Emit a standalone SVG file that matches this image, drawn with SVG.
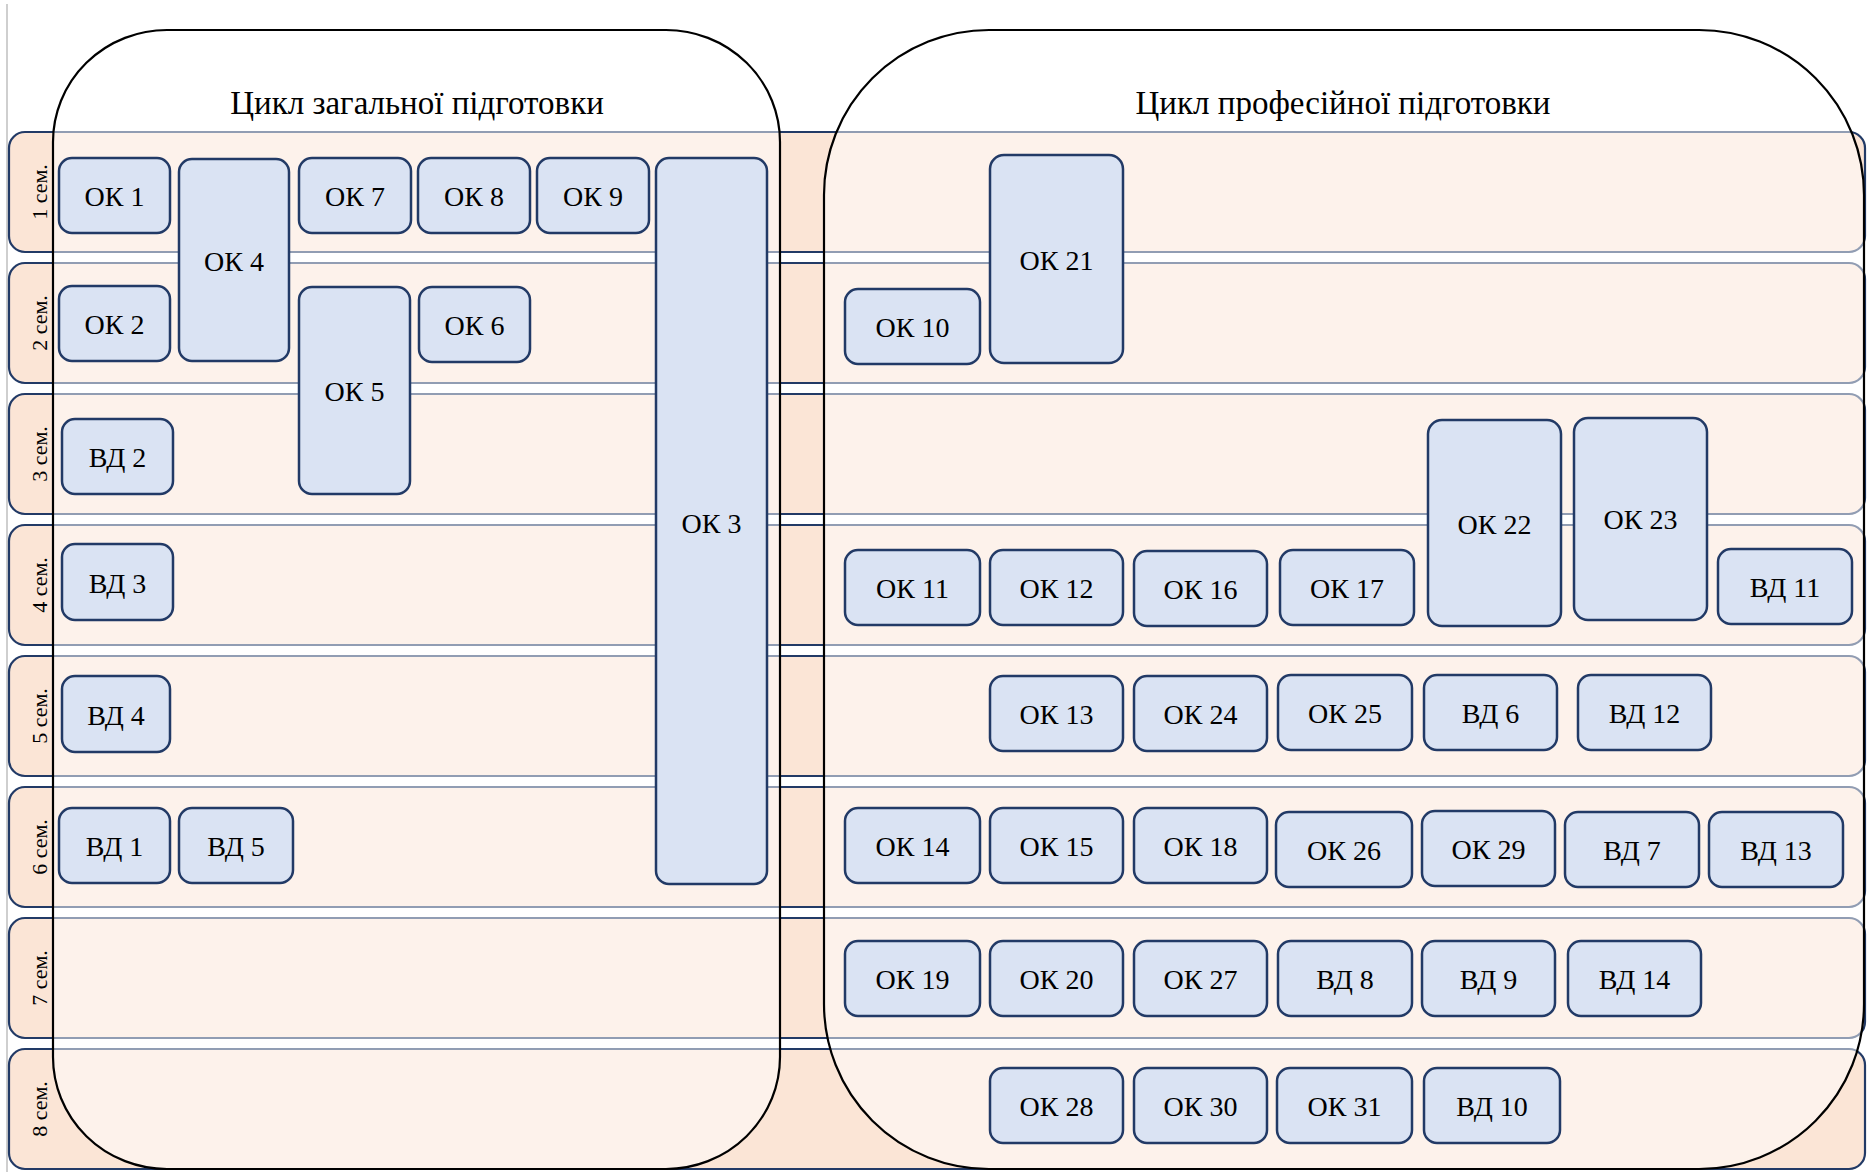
<svg xmlns="http://www.w3.org/2000/svg" width="1867" height="1172" viewBox="0 0 1867 1172">
<style>
.row{fill:#FBE5D6;stroke:#223A66;stroke-width:2.2}
.tab{font-family:"Liberation Serif","Times New Roman",serif;font-size:22px;fill:#000;text-anchor:middle;dominant-baseline:central}
.cyc{fill:#FFFFFF;fill-opacity:0.5;stroke:#000;stroke-width:2.2}
.ttl{font-family:"Liberation Serif","Times New Roman",serif;font-size:33px;fill:#000;text-anchor:middle}
.nd rect{fill:#DAE3F3;stroke:#223A66;stroke-width:2.5}
.nd text{font-family:"Liberation Serif","Times New Roman",serif;font-size:28px;fill:#000;text-anchor:middle}
</style>
<rect width="1867" height="1172" fill="#FFFFFF"/>
<line x1="7" y1="4" x2="7" y2="1172" stroke="#BFBFBF" stroke-width="1.5"/>
<g id="semesters">
<g id="sem1"><rect class="row" x="9" y="132" width="1856" height="120" rx="16"/><text class="tab" transform="translate(39,192) rotate(-90)">1 сем.</text></g>
<g id="sem2"><rect class="row" x="9" y="263" width="1856" height="120" rx="16"/><text class="tab" transform="translate(39,323) rotate(-90)">2 сем.</text></g>
<g id="sem3"><rect class="row" x="9" y="394" width="1856" height="120" rx="16"/><text class="tab" transform="translate(39,454) rotate(-90)">3 сем.</text></g>
<g id="sem4"><rect class="row" x="9" y="525" width="1856" height="120" rx="16"/><text class="tab" transform="translate(39,585) rotate(-90)">4 сем.</text></g>
<g id="sem5"><rect class="row" x="9" y="656" width="1856" height="120" rx="16"/><text class="tab" transform="translate(39,716) rotate(-90)">5 сем.</text></g>
<g id="sem6"><rect class="row" x="9" y="787" width="1856" height="120" rx="16"/><text class="tab" transform="translate(39,847) rotate(-90)">6 сем.</text></g>
<g id="sem7"><rect class="row" x="9" y="918" width="1856" height="120" rx="16"/><text class="tab" transform="translate(39,978) rotate(-90)">7 сем.</text></g>
<g id="sem8"><rect class="row" x="9" y="1049" width="1856" height="120" rx="16"/><text class="tab" transform="translate(39,1109) rotate(-90)">8 сем.</text></g>
</g>
<g id="cycle-general">
<rect class="cyc" x="53" y="30" width="727" height="1139" rx="114" ry="112"/>
<text class="ttl" x="417" y="114">Цикл загальної підготовки</text>
</g>
<g id="cycle-professional">
<rect class="cyc" x="824" y="30" width="1040" height="1139" rx="165" ry="165"/>
<text class="ttl" x="1343" y="114">Цикл професійної підготовки</text>
</g>
<g id="connectors"></g>
<g id="ok1" class="nd"><rect x="59" y="158" width="111" height="75" rx="13"/><text x="114.5" y="206">ОК 1</text></g>
<g id="ok4" class="nd"><rect x="179" y="159" width="110" height="202" rx="13"/><text x="234" y="271">ОК 4</text></g>
<g id="ok7" class="nd"><rect x="299" y="158" width="112" height="75" rx="13"/><text x="355" y="206">ОК 7</text></g>
<g id="ok8" class="nd"><rect x="418" y="158" width="112" height="75" rx="13"/><text x="474" y="206">ОК 8</text></g>
<g id="ok9" class="nd"><rect x="537" y="158" width="112" height="75" rx="13"/><text x="593" y="206">ОК 9</text></g>
<g id="ok3" class="nd"><rect x="656" y="158" width="111" height="726" rx="13"/><text x="711.5" y="533">ОК 3</text></g>
<g id="ok2" class="nd"><rect x="59" y="286" width="111" height="75" rx="13"/><text x="114.5" y="334">ОК 2</text></g>
<g id="ok5" class="nd"><rect x="299" y="287" width="111" height="207" rx="13"/><text x="354.5" y="401">ОК 5</text></g>
<g id="ok6" class="nd"><rect x="419" y="287" width="111" height="75" rx="13"/><text x="474.5" y="335">ОК 6</text></g>
<g id="vd2" class="nd"><rect x="62" y="419" width="111" height="75" rx="13"/><text x="117.5" y="467">ВД 2</text></g>
<g id="vd3" class="nd"><rect x="62" y="544" width="111" height="76" rx="13"/><text x="117.5" y="593">ВД 3</text></g>
<g id="vd4" class="nd"><rect x="62" y="676" width="108" height="76" rx="13"/><text x="116" y="725">ВД 4</text></g>
<g id="vd1" class="nd"><rect x="59" y="808" width="111" height="75" rx="13"/><text x="114.5" y="856">ВД 1</text></g>
<g id="vd5" class="nd"><rect x="179" y="808" width="114" height="75" rx="13"/><text x="236" y="856">ВД 5</text></g>
<g id="ok21" class="nd"><rect x="990" y="155" width="133" height="208" rx="14"/><text x="1056.5" y="270">ОК 21</text></g>
<g id="ok10" class="nd"><rect x="845" y="289" width="135" height="75" rx="13"/><text x="912.5" y="337">ОК 10</text></g>
<g id="ok22" class="nd"><rect x="1428" y="420" width="133" height="206" rx="14"/><text x="1494.5" y="534">ОК 22</text></g>
<g id="ok23" class="nd"><rect x="1574" y="418" width="133" height="202" rx="14"/><text x="1640.5" y="529">ОК 23</text></g>
<g id="ok11" class="nd"><rect x="845" y="550" width="135" height="75" rx="13"/><text x="912.5" y="598">ОК 11</text></g>
<g id="ok12" class="nd"><rect x="990" y="550" width="133" height="75" rx="13"/><text x="1056.5" y="598">ОК 12</text></g>
<g id="ok16" class="nd"><rect x="1134" y="551" width="133" height="75" rx="13"/><text x="1200.5" y="599">ОК 16</text></g>
<g id="ok17" class="nd"><rect x="1280" y="550" width="134" height="75" rx="13"/><text x="1347" y="598">ОК 17</text></g>
<g id="vd11" class="nd"><rect x="1718" y="549" width="134" height="75" rx="13"/><text x="1785" y="597">ВД 11</text></g>
<g id="ok13" class="nd"><rect x="990" y="676" width="133" height="75" rx="13"/><text x="1056.5" y="724">ОК 13</text></g>
<g id="ok24" class="nd"><rect x="1134" y="676" width="133" height="75" rx="13"/><text x="1200.5" y="724">ОК 24</text></g>
<g id="ok25" class="nd"><rect x="1278" y="675" width="134" height="75" rx="13"/><text x="1345" y="723">ОК 25</text></g>
<g id="vd6" class="nd"><rect x="1424" y="675" width="133" height="75" rx="13"/><text x="1490.5" y="723">ВД 6</text></g>
<g id="vd12" class="nd"><rect x="1578" y="675" width="133" height="75" rx="13"/><text x="1644.5" y="723">ВД 12</text></g>
<g id="ok14" class="nd"><rect x="845" y="808" width="135" height="75" rx="13"/><text x="912.5" y="856">ОК 14</text></g>
<g id="ok15" class="nd"><rect x="990" y="808" width="133" height="75" rx="13"/><text x="1056.5" y="856">ОК 15</text></g>
<g id="ok18" class="nd"><rect x="1134" y="808" width="133" height="75" rx="13"/><text x="1200.5" y="856">ОК 18</text></g>
<g id="ok26" class="nd"><rect x="1276" y="812" width="136" height="75" rx="13"/><text x="1344" y="860">ОК 26</text></g>
<g id="ok29" class="nd"><rect x="1422" y="811" width="133" height="75" rx="13"/><text x="1488.5" y="859">ОК 29</text></g>
<g id="vd7" class="nd"><rect x="1565" y="812" width="134" height="75" rx="13"/><text x="1632" y="860">ВД 7</text></g>
<g id="vd13" class="nd"><rect x="1709" y="812" width="134" height="75" rx="13"/><text x="1776" y="860">ВД 13</text></g>
<g id="ok19" class="nd"><rect x="845" y="941" width="135" height="75" rx="13"/><text x="912.5" y="989">ОК 19</text></g>
<g id="ok20" class="nd"><rect x="990" y="941" width="133" height="75" rx="13"/><text x="1056.5" y="989">ОК 20</text></g>
<g id="ok27" class="nd"><rect x="1134" y="941" width="133" height="75" rx="13"/><text x="1200.5" y="989">ОК 27</text></g>
<g id="vd8" class="nd"><rect x="1278" y="941" width="134" height="75" rx="13"/><text x="1345" y="989">ВД 8</text></g>
<g id="vd9" class="nd"><rect x="1422" y="941" width="133" height="75" rx="13"/><text x="1488.5" y="989">ВД 9</text></g>
<g id="vd14" class="nd"><rect x="1568" y="941" width="133" height="75" rx="13"/><text x="1634.5" y="989">ВД 14</text></g>
<g id="ok28" class="nd"><rect x="990" y="1068" width="133" height="75" rx="13"/><text x="1056.5" y="1116">ОК 28</text></g>
<g id="ok30" class="nd"><rect x="1134" y="1068" width="133" height="75" rx="13"/><text x="1200.5" y="1116">ОК 30</text></g>
<g id="ok31" class="nd"><rect x="1277" y="1068" width="135" height="75" rx="13"/><text x="1344.5" y="1116">ОК 31</text></g>
<g id="vd10" class="nd"><rect x="1424" y="1068" width="136" height="75" rx="13"/><text x="1492" y="1116">ВД 10</text></g>
</svg>
